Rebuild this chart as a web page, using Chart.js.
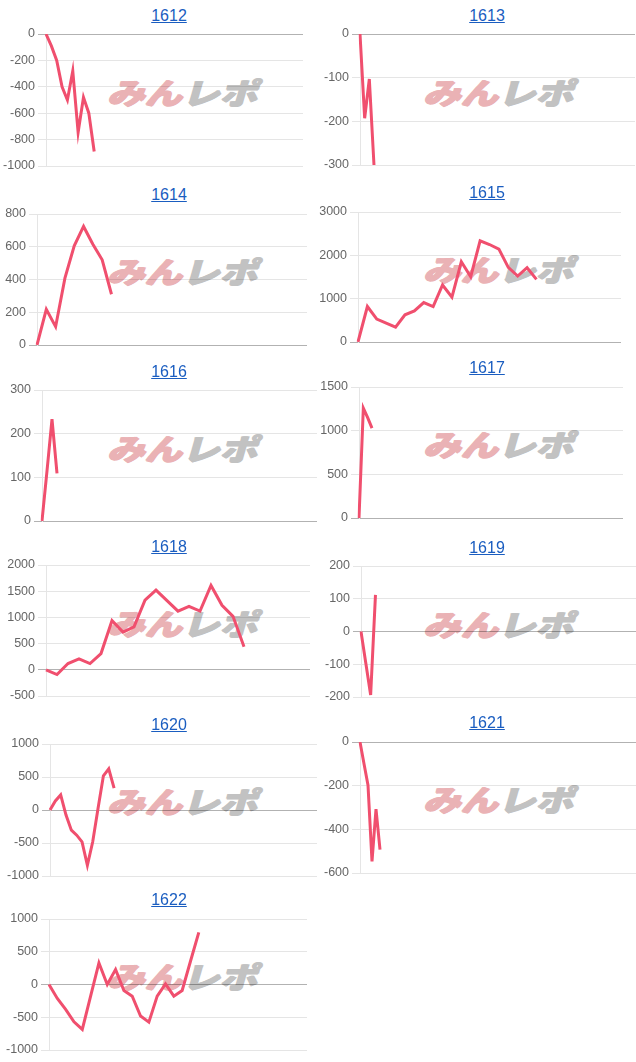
<!DOCTYPE html>
<html><head><meta charset="utf-8">
<script src="https://cdn.jsdelivr.net/npm/chart.js@4.4.1/dist/chart.umd.min.js"></script>
<style>
body{margin:0;background:#fff;width:636px;height:1062px;position:relative;overflow:hidden;font-family:"Liberation Sans",Arial,sans-serif;}
.title{position:absolute;width:160px;text-align:center;font-size:16px;color:#1a5dc0;text-decoration:underline;line-height:18px;}
.wm{position:absolute;width:170px;text-align:center;font-family:"Noto Sans CJK JP",sans-serif;font-weight:900;font-size:36px;line-height:36px;letter-spacing:0px;white-space:nowrap;transform:skewX(-16deg) scale(1.04,0.82);}
.wm .a{color:#eab2b5;text-shadow:1px 0 0 #eab2b5,-1px 0 0 #eab2b5,0 1px 0 #eab2b5;}
.wm .b{color:#c2c2c2;text-shadow:1px 0 0 #c2c2c2,-1px 0 0 #c2c2c2,0 1px 0 #c2c2c2;}
.box{position:absolute;}
</style></head><body>
<script>
// machine numbers (chart titles)
const machines = ['1612','1613','1614','1615','1616','1617','1618','1619','1620','1621','1622'];

// series values (cumulative difference)
const s1612 = [0, -90, -200, -400, -500, -280, -745, -480, -600, -890];
const s1613 = [0, -193, -103, -300];
const s1614 = [0, 218, 112, 408, 606, 724, 615, 520, 310];
const s1615 = [0, 819, 528, 436, 344, 627, 719, 910, 819, 1316, 1033, 1852, 1507, 2334, 2250, 2142, 1721, 1523, 1714, 1446];
const s1616 = [0, 115, 233, 109];
const s1617 = [0, 1259, 1150, 1029];
const s1618 = [0, -90, 120, 210, 120, 310, 940, 720, 820, 1330, 1520, 1320, 1120, 1210, 1120, 1610, 1230, 1020, 440];
const s1619 = [0, -97, -194, 112];
const s1620 = [0, 137, 228, -76, -305, -381, -482, -838, -482, 25, 518, 624, 330];
const s1621 = [0, -100, -198, -547, -307, -493];
const s1622 = [0, -213, -381, -569, -685, -178, 330, 0, 228, -91, -178, -482, -574, -178, 10, -178, -91, 355, 797];

// number of x categories per chart (labels hidden)
const n1612 = 49, n1613 = 60, n1614 = 30, n1615 = 29, n1616 = 56, n1617 = 62,
      n1618 = 25, n1619 = 58, n1620 = 51, n1621 = 70, n1622 = 32;

// y tick ranges [min, max, step]
const y1612 = [-1000, 0, 200];
const y1613 = [-300, 0, 100];
const y1614 = [0, 800, 200];
const y1615 = [0, 3000, 1000];
const y1616 = [0, 300, 100];
const y1617 = [0, 1500, 500];
const y1618 = [-500, 2000, 500];
const y1619 = [-200, 200, 100];
const y1620 = [-1000, 1000, 500];
const y1621 = [-600, 0, 200];
const y1622 = [-1000, 1000, 500];

const seriesList = [s1612, s1613, s1614, s1615, s1616, s1617, s1618, s1619, s1620, s1621, s1622];
const countList = [n1612, n1613, n1614, n1615, n1616, n1617, n1618, n1619, n1620, n1621, n1622];
const yList = [y1612, y1613, y1614, y1615, y1616, y1617, y1618, y1619, y1620, y1621, y1622];

// layout: [column, titleY, areaTop, areaBottom, areaLeft, areaRight]
const layoutList = [
  [0, 16, 34, 166, 46, 303],
  [1, 16, 34, 165, 360, 635],
  [0, 195, 214, 345, 37, 307],
  [1, 193, 212, 342, 358, 621],
  [0, 372, 390, 521, 42, 317],
  [1, 368, 387, 518, 359, 623],
  [0, 547, 565, 696, 46, 310],
  [1, 548, 566, 697, 361, 636],
  [0, 725, 744, 876, 50, 317],
  [1, 723, 742, 873, 360, 636],
  [0, 900, 919, 1050, 49, 307]
];

Chart.defaults.font.family = "'Liberation Sans', Arial, sans-serif";
Chart.defaults.font.size = 12;
Chart.defaults.color = '#666';

const PAD = 20;
machines.forEach((m, i) => {
  const [col, ty, at, ab, xl, xr] = layoutList[i];
  const colLeft = col ? 318 : 0;
  const tcx = col ? 487 : 169;
  const wcx = col ? 502 : 186;

  const wm = document.createElement('div');
  wm.className = 'wm';
  wm.innerHTML = '<span class="a">みん</span><span class="b">レポ</span>';
  wm.style.left = (wcx - 85) + 'px';
  wm.style.top = (ty + 76 - 19) + 'px';
  document.body.appendChild(wm);

  const t = document.createElement('div');
  t.className = 'title';
  t.textContent = m;
  t.style.left = (tcx - 80) + 'px';
  t.style.top = (ty - 9) + 'px';
  document.body.appendChild(t);

  const box = document.createElement('div');
  box.className = 'box';
  box.style.left = colLeft + 'px';
  box.style.top = (at - PAD) + 'px';
  box.style.width = '318px';
  box.style.height = (ab - at + 2 * PAD) + 'px';
  const cv = document.createElement('canvas');
  box.appendChild(cv);
  document.body.appendChild(box);

  const labels = Array.from({length: countList[i]}, (_, k) => String(k + 1));
  const yr = yList[i];
  new Chart(cv, {
    type: 'line',
    data: {
      labels: labels,
      datasets: [{
        data: seriesList[i],
        borderColor: '#f04f6e',
        borderWidth: 3,
        pointRadius: 0,
        tension: 0,
        fill: false
      }]
    },
    options: {
      responsive: true,
      maintainAspectRatio: false,
      animation: false,
      plugins: {legend: {display: false}, tooltip: {enabled: false}},
      layout: {padding: {top: PAD, bottom: PAD, left: 0, right: colLeft + 318 - xr}},
      scales: {
        x: {display: false},
        y: {
          min: yr[0], max: yr[1],
          ticks: {stepSize: yr[2], color: '#666', font: {size: 12.5}, callback: v => String(v)},
          border: {color: 'rgba(0,0,0,0.1)'},
          grid: {color: ctx => (ctx.tick && ctx.tick.value === 0) ? 'rgba(0,0,0,0.3)' : 'rgba(0,0,0,0.1)'},
          afterFit: s => { s.width = xl - colLeft; }
        }
      }
    }
  });
});
</script>
</body></html>
